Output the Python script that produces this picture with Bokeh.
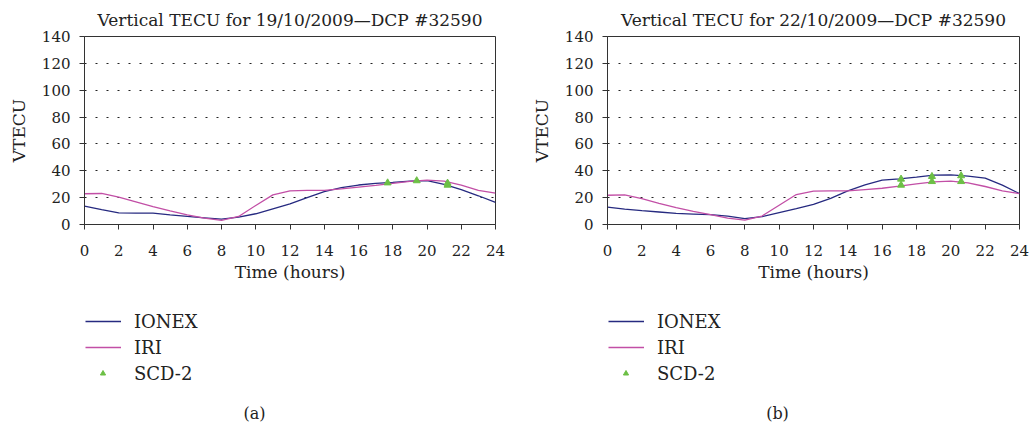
from bokeh.plotting import figure
from bokeh.layouts import row, column
from bokeh.models import Range1d, FixedTicker, Legend, LegendItem, Label
from bokeh.embed import file_html
from bokeh.resources import INLINE

hours = list(range(0, 25))

ionex_a = [13.7, 11.0, 8.7, 8.5, 8.5, 7.2, 6.0, 5.0, 4.0, 5.5, 8.0, 11.7, 15.4, 20.0, 24.4,
           27.4, 29.4, 30.6, 31.3, 32.3, 32.6, 29.9, 25.9, 21.4, 16.4]
iri_a = [22.9, 23.1, 20.4, 16.9, 13.4, 10.2, 7.2, 4.7, 3.0, 6.0, 14.2, 22.1, 25.1, 25.4, 25.4,
         26.6, 27.9, 29.1, 30.6, 32.1, 33.1, 32.3, 29.4, 25.4, 23.4]
scd_a_x = [17.7, 19.4, 21.2, 21.2]
scd_a_y = [31.0, 32.6, 30.8, 29.3]

ionex_b = [13.0, 11.5, 10.3, 9.3, 8.3, 7.8, 7.3, 6.3, 4.3, 5.8, 8.8, 11.8, 15.0, 19.5, 25.0,
           29.5, 33.0, 34.0, 35.3, 36.8, 37.0, 36.0, 34.5, 29.3, 23.0]
iri_b = [21.8, 22.0, 19.3, 15.8, 12.5, 9.8, 7.3, 4.8, 3.3, 6.3, 14.3, 22.3, 24.8, 25.0, 25.0,
         26.0, 27.0, 28.5, 30.3, 31.8, 32.3, 31.0, 28.3, 25.0, 23.0]
scd_b_x = [17.1, 17.1, 18.9, 18.9, 20.6, 20.6]
scd_b_y = [33.8, 29.3, 35.8, 32.0, 36.3, 32.0]

titles = ["Vertical TECU for 19/10/2009\u2014DCP #32590",
          "Vertical TECU for 22/10/2009\u2014DCP #32590"]
panel_labels = ["(a)", "(b)"]
series_names = ["IONEX", "IRI", "SCD-2"]
x_ticks = list(range(0, 25, 2))
y_ticks = list(range(0, 141, 20))
grid_levels = list(range(20, 121, 20))

FONT = "DejaVu Serif"
C_IONEX = "#262a80"
C_IRI = "#c24fa6"
C_SCD = "#6cbf45"
TXT = "#222222"
NAN = float("nan")


def legend_box(items, loc, gw):
    return Legend(items=items, location=loc, orientation="vertical",
                  glyph_width=gw, glyph_height=26, label_height=26, spacing=0,
                  label_standoff=13 if gw > 20 else 25,
                  padding=0, margin=0, border_line_color=None, background_fill_alpha=0,
                  label_text_font=FONT, label_text_font_size="18px", label_text_color=TXT)


def make(title, ionex, iri, sx, sy, lab, width, left, right):
    p = figure(width=width, height=300, output_backend="svg", toolbar_location=None,
               x_range=Range1d(0, 24), y_range=Range1d(0, 140),
               min_border_left=left, min_border_right=right,
               min_border_top=36, min_border_bottom=76)
    p.title.text = title
    p.title.align = "center"
    p.title.text_font = FONT
    p.title.text_font_size = "17px"
    p.title.text_font_style = "normal"
    p.title.text_color = TXT
    p.title.standoff = 13

    p.outline_line_color = "#333333"
    p.outline_line_width = 1
    p.background_fill_color = "white"
    p.border_fill_color = "white"

    p.xgrid.visible = False
    p.ygrid.ticker = FixedTicker(ticks=grid_levels)
    p.ygrid.grid_line_color = TXT
    p.ygrid.grid_line_dash = "2 9"
    p.ygrid.grid_line_width = 1

    for ax in (p.xaxis[0], p.yaxis[0]):
        ax.axis_line_color = "#333333"
        ax.major_tick_line_color = "#333333"
        ax.major_tick_in = 0
        ax.major_tick_out = 5
        ax.minor_tick_line_color = None
        ax.major_label_text_font = FONT
        ax.major_label_text_font_size = "15px"
        ax.major_label_text_color = TXT
        ax.axis_label_text_font = FONT
        ax.axis_label_text_font_size = "17px"
        ax.axis_label_text_font_style = "normal"
        ax.axis_label_text_color = TXT
    p.xaxis.ticker = FixedTicker(ticks=x_ticks)
    p.yaxis.ticker = FixedTicker(ticks=y_ticks)
    p.xaxis.axis_label = "Time (hours)"
    p.yaxis.axis_label = "VTECU"
    p.xaxis.major_label_standoff = 15
    p.xaxis.axis_label_standoff = 3
    p.yaxis.major_label_standoff = 9
    p.yaxis.axis_label_standoff = 10

    p.line(hours, ionex, line_color=C_IONEX, line_width=1.3)
    p.line(hours, iri, line_color=C_IRI, line_width=1.3)
    p.scatter(sx, sy, marker="triangle", size=7, fill_color=C_SCD, line_color=C_SCD)

    # legend + panel label area (key glyphs use placeholder renderers with no visible data)
    q = figure(width=width, height=124, output_backend="svg", toolbar_location=None,
               x_range=Range1d(0, 1), y_range=Range1d(0, 1),
               min_border_left=left, min_border_right=right,
               min_border_top=0, min_border_bottom=0)
    q.axis.visible = False
    q.grid.visible = False
    q.outline_line_color = None
    q.background_fill_color = "white"
    q.border_fill_color = "white"
    d1 = q.line([NAN], [NAN], line_color=C_IONEX, line_width=1.3)
    d2 = q.line([NAN], [NAN], line_color=C_IRI, line_width=1.3)
    d3 = q.scatter([NAN], [NAN], marker="triangle", size=6, fill_color=C_SCD, line_color=C_SCD)
    q.add_layout(legend_box([LegendItem(label=series_names[0], renderers=[d1]),
                             LegendItem(label=series_names[1], renderers=[d2])],
                            (1, 64), 36), "center")
    q.add_layout(legend_box([LegendItem(label=series_names[2], renderers=[d3])],
                            (12, 38), 13), "center")
    q.add_layout(Label(x=170, y=11, x_units="screen", y_units="screen", text=lab,
                       text_font=FONT, text_font_size="16px", text_color=TXT,
                       text_align="center", text_baseline="middle"))
    return column(p, q, spacing=0)


c1 = make(titles[0], ionex_a, iri_a, scd_a_x, scd_a_y, panel_labels[0], 524, 84, 29)
c2 = make(titles[1], ionex_b, iri_b, scd_b_x, scd_b_y, panel_labels[1], 508, 83, 13)

layout = row(c1, c2, spacing=0)
open("out.html", "w").write(file_html(layout, INLINE))
